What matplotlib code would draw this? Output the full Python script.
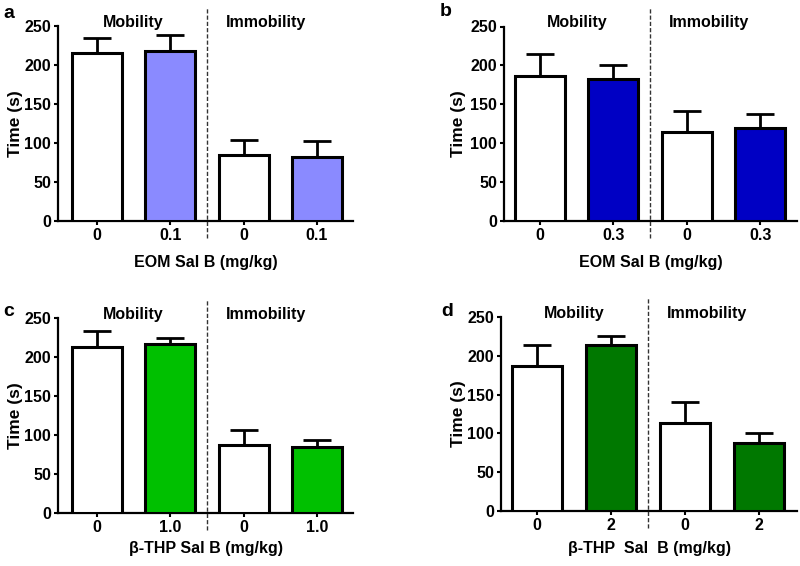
import matplotlib
matplotlib.use("Agg")
import matplotlib.pyplot as plt

plt.rcParams['font.family'] = ['Liberation Sans', 'DejaVu Sans']
plt.rcParams['font.weight'] = 'bold'

# ---- data ----
panel_letters = ["a", "b", "c", "d"]
tick_labels_a = ["0", "0.1", "0", "0.1"]
tick_labels_b = ["0", "0.3", "0", "0.3"]
tick_labels_c = ["0", "1.0", "0", "1.0"]
tick_labels_d = ["0", "2", "0", "2"]
means_a = [215, 218, 85, 82]
errs_a = [19, 21, 19, 21]
means_b = [187, 182, 114, 119]
errs_b = [28, 19, 28, 19]
means_c = [213, 217, 87, 84]
errs_c = [20, 8, 20, 9]
means_d = [187, 214, 114, 87]
errs_d = [27, 12, 27, 14]
xlabels = ["EOM Sal B (mg/kg)", "EOM Sal B (mg/kg)",
           "\u03b2-THP Sal B (mg/kg)", "\u03b2-THP  Sal  B (mg/kg)"]
drug_colors = ["#8a8aff", "#0000c4", "#00c000", "#007800"]
section_labels = ["Mobility", "Immobility"]
yticks = [0, 50, 100, 150, 200, 250]

W, H = 800, 566
fig = plt.figure(figsize=(W / 100, H / 100), dpi=100)

# pixel layout: left, right, y0, top, letter x, letter y, xlabel y, ylabel x, xmin, xmax
layouts = [
    (58, 353, 221, 26, 9, 14, 262, 16, -0.53, 3.49),
    (504, 797, 221, 26.5, 446, 11, 262, 459, -0.49, 3.5),
    (58, 353, 513, 318, 9, 312, 548, 16, -0.53, 3.49),
    (501, 797, 511, 317, 447, 311, 548, 459, -0.49, 3.52),
]
all_means = [means_a, means_b, means_c, means_d]
all_errs = [errs_a, errs_b, errs_c, errs_d]
all_ticks = [tick_labels_a, tick_labels_b, tick_labels_c, tick_labels_d]

for i in range(4):
    l, r, y0, yt, lx, ly, xly, ylx, xmin, xmax = layouts[i]
    ax = fig.add_axes([l / W, (H - y0) / H, (r - l) / W, (y0 - yt) / H])
    x = [0, 1, 2, 3]
    colors = ["white", drug_colors[i], "white", drug_colors[i]]
    ax.bar(x, all_means[i], width=0.68, color=colors, edgecolor="black",
           linewidth=2.2, zorder=3)
    ax.errorbar(x, all_means[i], yerr=[[0] * 4, all_errs[i]], fmt="none",
                ecolor="black", elinewidth=2, capsize=10, capthick=2, zorder=2)
    ax.set_xlim(xmin, xmax)
    ax.set_ylim(0, 250)
    ax.set_yticks(yticks)
    ax.set_xticks(x)
    ax.set_xticklabels(all_ticks[i])
    ax.tick_params(axis="both", labelsize=11.5, width=1.5, length=3,
                   direction="out", pad=2)
    for s in ["top", "right"]:
        ax.spines[s].set_visible(False)
    for s in ["left", "bottom"]:
        ax.spines[s].set_linewidth(1.6)
    for lab in ax.get_xticklabels() + ax.get_yticklabels():
        lab.set_fontweight("bold")
    ax.set_ylabel("Time (s)", fontsize=12.5, fontweight="bold", va="center")
    ax.yaxis.set_label_coords((ylx - l) / (r - l), 0.5)
    # divider
    ax.plot([1.5, 1.5], [-22, 275], color="#333333", lw=1.0,
            linestyle=(0, (3, 1.5)), clip_on=False, zorder=4)
    # section labels
    ax.text(0.5, 255, section_labels[0], ha="center", va="center",
            fontsize=11.5, fontweight="bold", clip_on=False)
    ax.text(2.3, 255, section_labels[1], ha="center", va="center",
            fontsize=11.5, fontweight="bold", clip_on=False)
    # x label
    fig.text((l + r) / 2 / W, 1 - xly / H, xlabels[i], ha="center",
             va="center", fontsize=11.5, fontweight="bold")
    fig.text(lx / W, 1 - ly / H, panel_letters[i], ha="center", va="center",
             fontsize=14, fontweight="bold")

fig.savefig("out.png", dpi=100)
